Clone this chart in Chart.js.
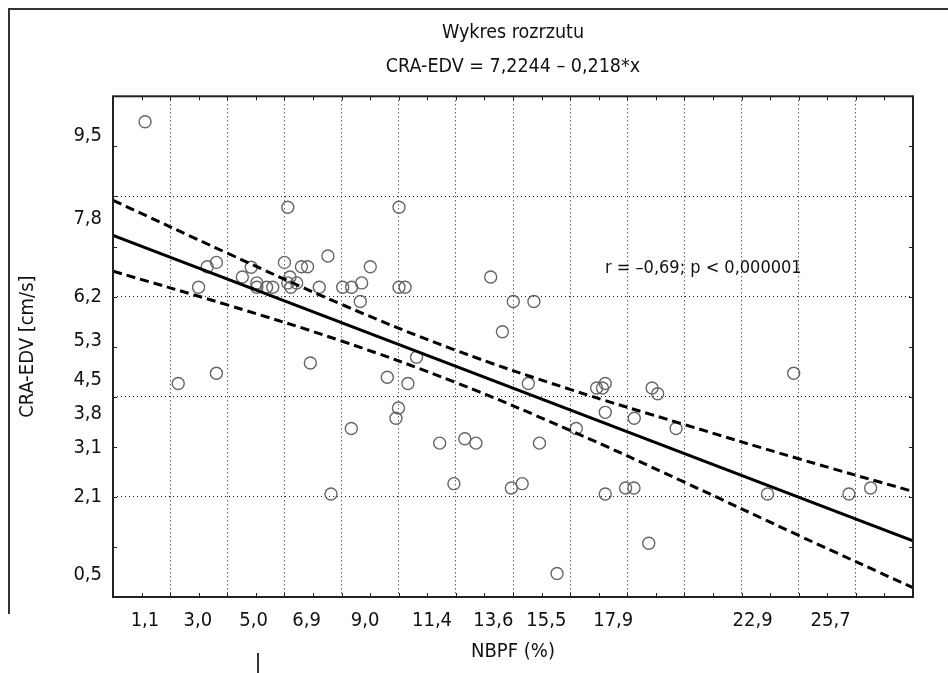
<!DOCTYPE html>
<html>
<head>
<meta charset="utf-8">
<script src="https://cdn.jsdelivr.net/npm/chart.js@4.4.1/dist/chart.umd.min.js"></script>
<style>
  html, body { margin: 0; padding: 0; background: #fff; }
  #wrap { position: relative; width: 948px; height: 673px; overflow: hidden; }
  #wrap canvas { position: absolute; left: 0; top: 0; }
  .frame { position: absolute; background: #333; }
</style>
</head>
<body>
<div id="wrap">
  <div class="frame" style="left:8px;top:8px;width:940px;height:2px"></div>
  <div class="frame" style="left:8px;top:8px;width:2px;height:606px"></div>
  <div class="frame" style="left:257px;top:653px;width:2px;height:20px"></div>
  <canvas id="scatter" width="948" height="673"></canvas>
</div>
<script>
// NBPF (%) vs CRA-EDV [cm/s]
const nbpf = [
  0.10, 5.22, 9.21, 2.02, 2.33, 2.66, 3.59, 3.91, 4.11, 4.11,
  4.46, 4.68, 5.10, 5.30, 5.22, 5.54, 5.33, 5.71, 5.93, 6.35,
  6.66, 7.19, 7.51, 7.87, 7.82, 8.18, 9.21, 9.43, 12.50, 13.31,
  14.05, 12.92, 1.29, 2.66, 6.03, 6.77, 7.50, 8.79, 9.19, 9.10,
  9.84, 9.53, 10.67, 11.57, 11.97, 11.18, 13.24, 13.63, 13.85, 14.25,
  14.88, 15.57, 16.30, 16.51, 16.61, 16.61, 16.61, 17.34, 17.64, 17.65,
  18.17, 18.29, 18.49, 19.15, 23.37, 22.43, 25.35, 26.13
];
const craEdv = [
  9.78, 8.03, 8.03, 6.39, 6.81, 6.90, 6.60, 6.80, 6.48, 6.39,
  6.39, 6.39, 6.90, 6.60, 6.48, 6.48, 6.39, 6.81, 6.81, 6.39,
  7.03, 6.39, 6.39, 6.48, 6.10, 6.81, 6.39, 6.39, 6.60, 6.10,
  6.10, 5.48, 4.42, 4.63, 4.84, 2.16, 3.50, 4.55, 3.92, 3.71,
  4.96, 4.42, 3.20, 3.29, 3.20, 2.37, 2.28, 2.37, 4.42, 3.20,
  0.53, 3.50, 4.33, 4.33, 4.42, 3.83, 2.16, 2.28, 2.28, 3.71,
  1.15, 4.33, 4.21, 3.50, 4.63, 2.16, 2.16, 2.28
];

// regression line ends and 95% band, as drawn
const fitX = [-1.05, 27.65];
const fitY = [7.45, 1.20];
const bandX = [-1.05, 3.05, 7.15, 11.25, 15.35, 19.45, 23.55, 27.65];
const bandUpper = [8.17, 7.09, 6.04, 5.10, 4.30, 3.58, 2.88, 2.21];
const bandLower = [6.72, 6.03, 5.29, 4.44, 3.46, 2.40, 1.31, 0.24];

const xTickLabels = [1.1, 3.0, 5.0, 6.9, 9.0, 11.4, 13.6, 15.5, 17.9, 22.9, 25.7];
const yTickLabels = [0.5, 2.1, 3.1, 3.8, 4.5, 5.3, 6.2, 7.8, 9.5];

const X_MIN = -1.05, X_MAX = 27.65;
const Y_MIN = 0.05, Y_MAX = 10.3;
const GRID_STEP = 2.05;

const FONT = "'DejaVu Sans Condensed', 'Liberation Sans Narrow', 'Liberation Sans', sans-serif";
Chart.defaults.font.family = FONT;
Chart.defaults.color = '#111';

const toPoints = (xs, ys) => xs.map((x, i) => ({ x: x, y: ys[i] }));
const fmt = v => v.toFixed(1).replace('.', ',');

// grid ticks (unlabelled) + labelled ticks on one scale
function mixTicks(scale, min, max, labels) {
  const ticks = [];
  for (let v = min + GRID_STEP; v < max - 0.01; v += GRID_STEP) {
    ticks.push({ value: +v.toFixed(3), grid: true });
  }
  labels.forEach(v => ticks.push({ value: v }));
  scale.ticks = ticks;
}
const tickLabel = (value, index, ticks) => (ticks[index].grid ? '' : fmt(value));
const gridColor = ctx => (ctx.tick && ctx.tick.grid ? '#1a1a1a' : 'rgba(0,0,0,0)');

// plot frame with small inward ticks on all sides
const framePlugin = {
  id: 'frame',
  afterDatasetsDraw(chart) {
    const { ctx, chartArea: a, scales } = chart;
    ctx.save();
    ctx.strokeStyle = '#222';
    ctx.lineWidth = 2;
    ctx.strokeRect(a.left, a.top, a.right - a.left, a.bottom - a.top);
    ctx.lineWidth = 1;
    ctx.beginPath();
    const half = GRID_STEP / 2;
    for (let v = X_MIN + half; v < X_MAX - 0.01; v += half) {
      const px = Math.round(scales.x.getPixelForValue(v)) + 0.5;
      ctx.moveTo(px, a.bottom); ctx.lineTo(px, a.bottom - 4);
      ctx.moveTo(px, a.top); ctx.lineTo(px, a.top + 4);
    }
    for (let v = Y_MIN + half; v < Y_MAX - 0.01; v += half) {
      const py = Math.round(scales.y.getPixelForValue(v)) + 0.5;
      ctx.moveTo(a.left, py); ctx.lineTo(a.left + 4, py);
      ctx.moveTo(a.right, py); ctx.lineTo(a.right - 4, py);
    }
    ctx.stroke();
    ctx.restore();
  }
};

const noteText = 'r = \u20130,69; p < 0,000001';
const notePos = { x: 16.6, y: 6.77 };
const notePlugin = {
  id: 'note',
  afterDatasetsDraw(chart) {
    const { ctx, scales } = chart;
    ctx.save();
    ctx.font = '18px ' + FONT;
    ctx.fillStyle = '#111';
    ctx.textAlign = 'left';
    ctx.textBaseline = 'middle';
    ctx.fillText(noteText, scales.x.getPixelForValue(notePos.x), scales.y.getPixelForValue(notePos.y));
    ctx.restore();
  }
};

new Chart(document.getElementById('scatter'), {
  type: 'scatter',
  data: {
    datasets: [
      {
        label: 'CRA-EDV',
        data: toPoints(nbpf, craEdv),
        pointStyle: 'circle',
        pointRadius: 6,
        pointBorderWidth: 1.4,
        pointBorderColor: '#666',
        pointBackgroundColor: 'rgba(0,0,0,0)',
        order: 2
      },
      {
        type: 'line',
        data: toPoints(fitX, fitY),
        borderColor: '#000',
        borderWidth: 3,
        pointRadius: 0,
        fill: false,
        order: 1
      },
      {
        type: 'line',
        data: toPoints(bandX, bandUpper),
        borderColor: '#000',
        borderWidth: 3,
        borderDash: [9, 5],
        tension: 0.4,
        pointRadius: 0,
        fill: false,
        order: 1
      },
      {
        type: 'line',
        data: toPoints(bandX, bandLower),
        borderColor: '#000',
        borderWidth: 3,
        borderDash: [9, 5],
        tension: 0.4,
        pointRadius: 0,
        fill: false,
        order: 1
      }
    ]
  },
  options: {
    responsive: false,
    animation: false,
    devicePixelRatio: 1,
    layout: { padding: { left: 0, right: 35, top: 0, bottom: 0 } },
    plugins: {
      legend: { display: false },
      tooltip: { enabled: false },
      title: {
        display: true,
        text: 'Wykres rozrzutu',
        fullSize: false,
        color: '#111',
        font: { size: 19.5, weight: 'normal' },
        padding: { top: 21, bottom: 10.5 }
      },
      subtitle: {
        display: true,
        text: 'CRA-EDV = 7,2244 \u2013 0,218*x',
        fullSize: false,
        color: '#111',
        font: { size: 19.5, weight: 'normal' },
        padding: { top: 0, bottom: 18 }
      }
    },
    scales: {
      x: {
        type: 'linear',
        min: X_MIN,
        max: X_MAX,
        afterBuildTicks: s => mixTicks(s, X_MIN, X_MAX, xTickLabels),
        afterFit: s => { s.height = 76; },
        ticks: {
          autoSkip: false,
          maxRotation: 0,
          labelOffset: -28,
          padding: 12,
          font: { size: 20 },
          callback: tickLabel
        },
        grid: { color: gridColor, lineWidth: 1, drawTicks: false },
        border: { display: false, dash: [1, 3] },
        title: {
          display: true,
          text: 'NBPF (%)',
          font: { size: 20 },
          padding: { top: 0, bottom: 9 }
        }
      },
      y: {
        type: 'linear',
        min: Y_MIN,
        max: Y_MAX,
        afterBuildTicks: s => mixTicks(s, Y_MIN, Y_MAX, yTickLabels),
        afterFit: s => { s.width = 113; },
        ticks: {
          autoSkip: false,
          padding: 11,
          font: { size: 20 },
          callback: tickLabel
        },
        grid: { color: gridColor, lineWidth: 1, drawTicks: false },
        border: { display: false, dash: [1, 3] },
        title: {
          display: true,
          text: 'CRA-EDV [cm/s]',
          font: { size: 20 },
          padding: { top: 16, bottom: 0 }
        }
      }
    }
  },
  plugins: [framePlugin, notePlugin]
});
</script>
</body>
</html>
